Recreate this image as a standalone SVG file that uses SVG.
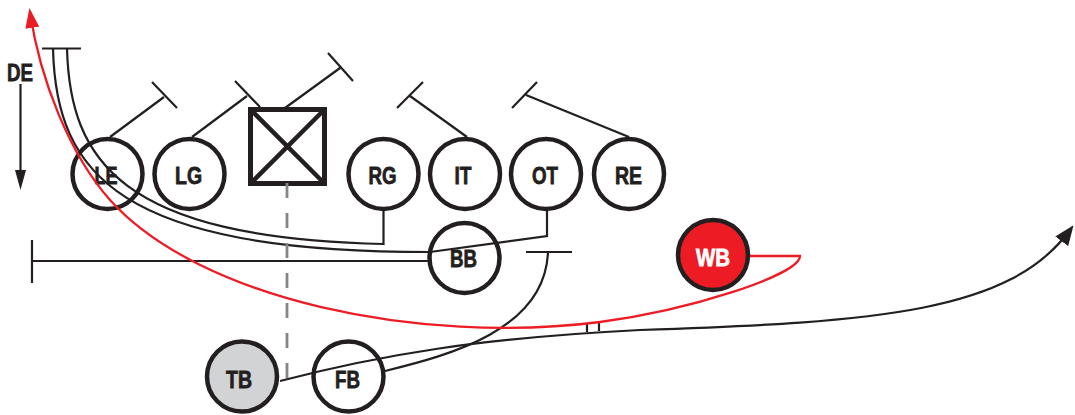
<svg xmlns="http://www.w3.org/2000/svg" width="1075" height="415" viewBox="0 0 1075 415">
  <defs>
    <style>
      .node { fill: #ffffff; stroke: #231f20; stroke-width: 4.5; }
      .lbl { font-family: "Liberation Sans", Arial, sans-serif; font-weight: bold; font-size: 24px; fill: #231f20; stroke: #231f20; stroke-width: 0.8; text-anchor: middle; }
      .ln { fill: none; stroke: #231f20; stroke-width: 2.2; }
      .red { fill: none; stroke: #ed1c24; stroke-width: 2.3; }
      .dash { fill: none; stroke: #858585; stroke-width: 2.8; stroke-dasharray: 15 15; }
    </style>
    <marker id="arrowBlack" viewBox="0 0 20 16" refX="14" refY="8" markerWidth="20" markerHeight="16" markerUnits="userSpaceOnUse" orient="auto">
      <path d="M0,0 L20,8 L0,16 Z" fill="#231f20"/>
    </marker>
    <marker id="arrowRed" viewBox="0 0 20 14" refX="16" refY="7" markerWidth="20" markerHeight="14" markerUnits="userSpaceOnUse" orient="auto">
      <path d="M0,0 L20,7 L0,14 Z" fill="#ed1c24"/>
    </marker>
  </defs>

  <rect width="1075" height="415" fill="#ffffff"/>

  <!-- defender label and drop arrow -->
  <g id="de">
    <text class="lbl" x="20" y="81" font-size="22.5" textLength="26" lengthAdjust="spacingAndGlyphs">DE</text>
    <line x1="20.5" y1="84" x2="20.5" y2="175" stroke="#231f20" stroke-width="2.2"/>
    <path d="M15,170 L26,170 L20.5,190 Z" fill="#231f20"/>
  </g>

  <!-- offensive line -->
  <g id="le"><circle class="node" cx="107.5" cy="174" r="35" style="fill:none"/><text class="lbl" x="106" y="184" textLength="23" lengthAdjust="spacingAndGlyphs">LE</text></g>
  <g id="lg"><circle class="node" cx="189.5" cy="174" r="35"/><text class="lbl" x="188.5" y="184" textLength="27" lengthAdjust="spacingAndGlyphs">LG</text></g>
  <g id="c">
    <rect x="250.5" y="109.5" width="74" height="74" fill="#ffffff" stroke="#231f20" stroke-width="5"/>
    <line x1="252" y1="111" x2="323" y2="182" stroke="#231f20" stroke-width="4.5"/>
    <line x1="323" y1="111" x2="252" y2="182" stroke="#231f20" stroke-width="4.5"/>
  </g>
  <g id="rg"><circle class="node" cx="383.5" cy="174" r="35"/><text class="lbl" x="382.5" y="184" textLength="28" lengthAdjust="spacingAndGlyphs">RG</text></g>
  <g id="it"><circle class="node" cx="465" cy="174" r="35"/><text class="lbl" x="463" y="184" textLength="17" lengthAdjust="spacingAndGlyphs">IT</text></g>
  <g id="ot"><circle class="node" cx="546" cy="174" r="35"/><text class="lbl" x="545" y="184" textLength="26" lengthAdjust="spacingAndGlyphs">OT</text></g>
  <g id="re"><circle class="node" cx="629" cy="174" r="35"/><text class="lbl" x="628.5" y="184" textLength="27" lengthAdjust="spacingAndGlyphs">RE</text></g>

  <!-- backs -->
  <g id="bb"><circle class="node" cx="464.5" cy="258" r="35"/><text class="lbl" x="463.5" y="267" textLength="27" lengthAdjust="spacingAndGlyphs">BB</text></g>
  <g id="wb"><circle class="node" cx="713" cy="255" r="35" style="fill:#ed1c24"/><text class="lbl" x="713" y="266" textLength="34" lengthAdjust="spacingAndGlyphs" style="fill:#ffffff;stroke:#ffffff">WB</text></g>
  <g id="tb"><circle class="node" cx="242" cy="376.5" r="35" style="fill:#d1d3d4"/><text class="lbl" x="239" y="388" textLength="26" lengthAdjust="spacingAndGlyphs">TB</text></g>
  <g id="fb"><circle class="node" cx="348.5" cy="376.5" r="35"/><text class="lbl" x="347.5" y="388" textLength="25" lengthAdjust="spacingAndGlyphs">FB</text></g>

  <!-- assignments and routes -->
  <g id="connectors">
    <!-- blocks -->
    <path class="ln" d="M110,137 L164,97 M152,82 L177,108"/>
    <path class="ln" d="M192,137 L247,96 M235,81 L260,107"/>
    <path class="ln" d="M285,108 L340,68 M328,53 L353,81"/>
    <path class="ln" d="M467,137 L410,96 M397,108 L423,82"/>
    <path class="ln" d="M629,137 L526,95 M512,108 L537,82"/>

    <!-- pulling linemen -->
    <path class="ln" d="M42,48.5 L81,48.5"/>
    <path class="ln" d="M67,48.5 C70,160 120,238 383.5,244 L383.5,209"/>
    <path class="ln" d="M53,48.5 C56,175 120,252 430,252 L547,236 L547,209"/>

    <!-- backfield blocks -->
    <path class="ln" d="M430,261 L32,261 M32,240 L32,283"/>
    <path class="ln" d="M385,371 C450,355 545,330 548,252 M526,252 L572,252"/>

    <!-- quarterback line -->
    <path class="dash" d="M287,183 L287,378"/>

    <!-- ball carrier -->
    <path class="ln" marker-end="url(#arrowBlack)" d="M280,381 C380,355 480,338 640,330 C880,322 1010,312 1070,230"/>

    <!-- handoff tick -->
    <path class="ln" d="M587,324 L587,332 M599,323 L599,331"/>

    <!-- wingback route -->
    <path class="red" marker-end="url(#arrowRed)" d="M750,256 L800,256 C800,275 690,310 600,322 C420,345 200,300 110,200 C70,155 40,80 30,12"/>
  </g>
</svg>
